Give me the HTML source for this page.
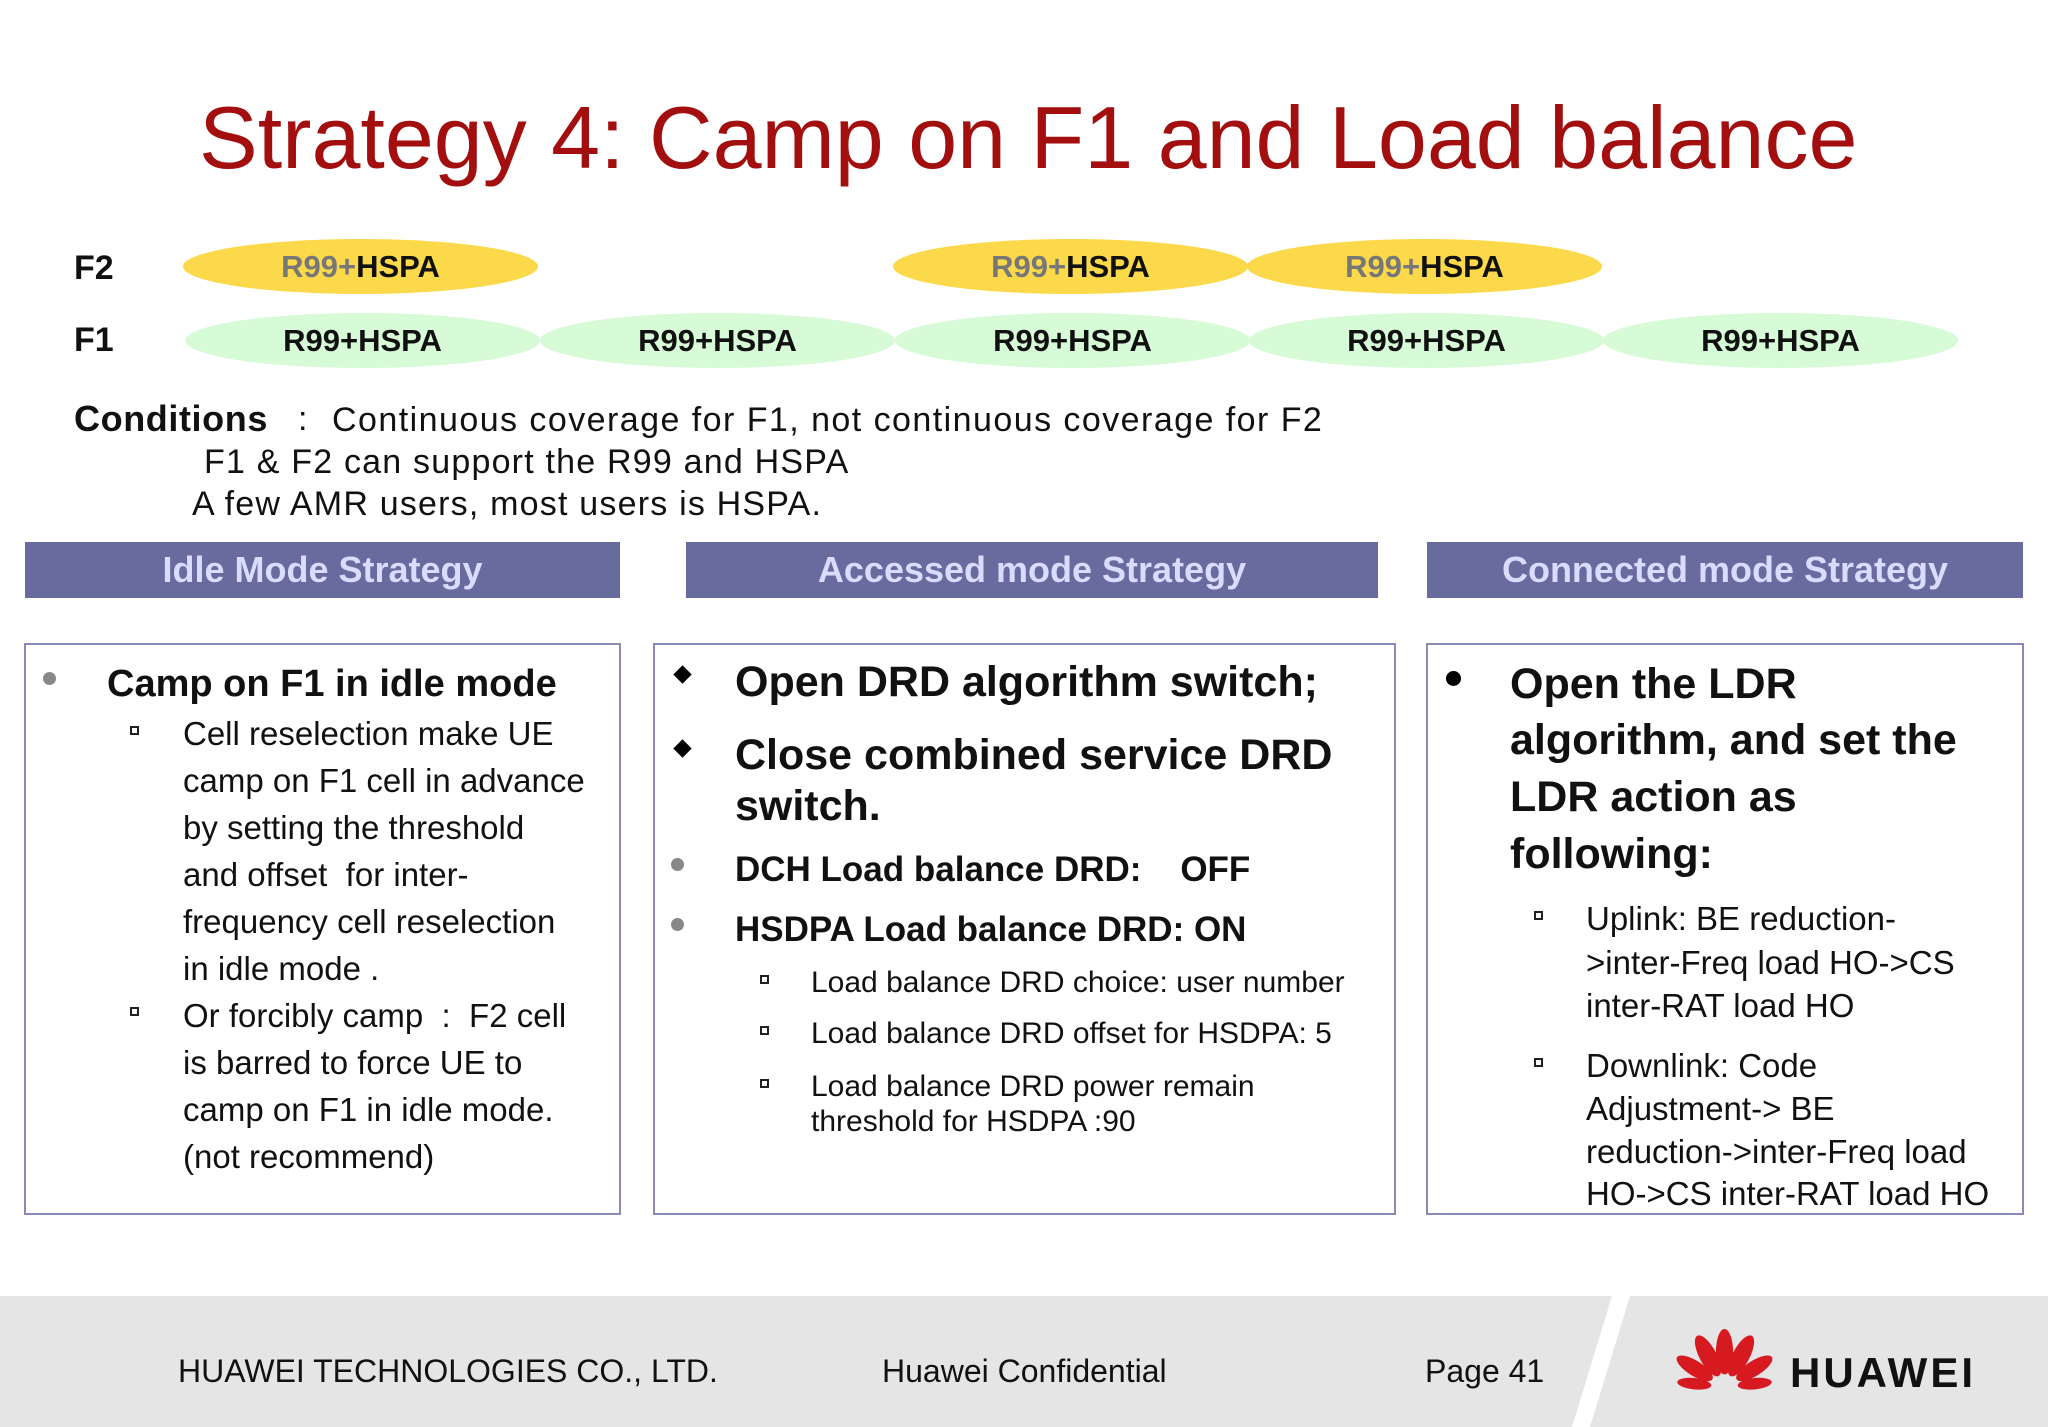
<!DOCTYPE html>
<html><head><meta charset="utf-8">
<style>
body{margin:0;width:2048px;height:1427px;background:#fff;position:relative;overflow:hidden;font-family:"Liberation Sans",sans-serif;color:#111}
.t{position:absolute;line-height:0;height:0;white-space:nowrap}
.b{font-weight:bold}
.ell{position:absolute;width:355px;height:55px;border-radius:50%;display:flex;align-items:center;justify-content:center;font-weight:bold;font-size:31px}
.y{background:#fcd94a}.g{background:#d6fbd6}
.hdr{position:absolute;top:542px;height:56px;background:#676b9e;color:#d9dcff;font-weight:bold;font-size:36px;display:flex;align-items:center;justify-content:center}
.box{position:absolute;top:643px;height:572px;border:2px solid #8a8ab8;box-sizing:border-box}
.sq{position:absolute;width:9px;height:9px;border:2px solid #222;box-sizing:border-box}
.dot{position:absolute;width:13px;height:13px;border-radius:50%;background:#888}
.dia{position:absolute;width:13px;height:13px;background:#000;transform:rotate(45deg)}
.s33{font-size:33px}.s31{font-size:30px}
.c{font-size:34px;letter-spacing:1.2px}
</style></head><body>
<div class="t" style="left:199px;top:138px;font-size:88px;color:#a30e0e">Strategy 4: Camp on F1 and Load balance</div>

<div class="t b" style="left:74px;top:268px;font-size:34px">F2</div>
<div class="t b" style="left:74px;top:340px;font-size:34px">F1</div>

<div class="ell y" style="left:183px;top:239px"><span style="color:#777">R99+</span>HSPA</div>
<div class="ell y" style="left:893px;top:239px"><span style="color:#777">R99+</span>HSPA</div>
<div class="ell y" style="left:1247px;top:239px"><span style="color:#777">R99+</span>HSPA</div>
<div class="ell g" style="left:185px;top:313px">R99+HSPA</div>
<div class="ell g" style="left:540px;top:313px">R99+HSPA</div>
<div class="ell g" style="left:895px;top:313px">R99+HSPA</div>
<div class="ell g" style="left:1249px;top:313px">R99+HSPA</div>
<div class="ell g" style="left:1603px;top:313px">R99+HSPA</div>

<div class="t b" style="left:74px;top:419px;font-size:36px;letter-spacing:0.6px">Conditions</div>
<div class="t" style="left:298px;top:419px;font-size:34px">:</div>
<div class="t c" style="left:332px;top:420px;letter-spacing:1.45px">Continuous coverage for F1, not continuous coverage for F2</div>
<div class="t c" style="left:204px;top:462px">F1 &amp; F2 can support the R99 and HSPA</div>
<div class="t c" style="left:192px;top:504px">A few AMR users, most users is HSPA.</div>

<div class="hdr" style="left:25px;width:595px">Idle Mode Strategy</div>
<div class="hdr" style="left:686px;width:692px">Accessed mode Strategy</div>
<div class="hdr" style="left:1427px;width:596px">Connected mode Strategy</div>

<div class="box" style="left:24px;width:597px"></div>
<div class="box" style="left:653px;width:743px"></div>
<div class="box" style="left:1426px;width:598px"></div>

<!-- idle box -->
<div class="dot" style="left:43px;top:672px"></div>
<div class="t b" style="left:107px;top:684px;font-size:38px">Camp on F1 in idle mode</div>
<div class="sq" style="left:130px;top:726px"></div>
<div class="t s33" style="left:183px;top:734px">Cell reselection make UE</div>
<div class="t s33" style="left:183px;top:781px">camp on F1 cell in advance</div>
<div class="t s33" style="left:183px;top:828px">by setting the threshold</div>
<div class="t s33" style="left:183px;top:875px">and offset&nbsp; for inter-</div>
<div class="t s33" style="left:183px;top:922px">frequency cell reselection</div>
<div class="t s33" style="left:183px;top:969px">in idle mode .</div>
<div class="sq" style="left:130px;top:1007px"></div>
<div class="t s33" style="left:183px;top:1016px">Or forcibly camp &nbsp;: &nbsp;F2 cell</div>
<div class="t s33" style="left:183px;top:1063px">is barred to force UE to</div>
<div class="t s33" style="left:183px;top:1110px">camp on F1 in idle mode.</div>
<div class="t s33" style="left:183px;top:1157px">(not recommend)</div>

<!-- accessed box -->
<div class="dia" style="left:676px;top:668px"></div>
<div class="t b" style="left:735px;top:682px;font-size:43px">Open DRD algorithm switch;</div>
<div class="dia" style="left:676px;top:742px"></div>
<div class="t b" style="left:735px;top:755px;font-size:43px">Close combined service DRD</div>
<div class="t b" style="left:735px;top:806px;font-size:43px">switch.</div>
<div class="dot" style="left:671px;top:858px"></div>
<div class="t b" style="left:735px;top:870px;font-size:35px">DCH Load balance DRD:&nbsp;&nbsp;&nbsp; OFF</div>
<div class="dot" style="left:671px;top:918px"></div>
<div class="t b" style="left:735px;top:930px;font-size:35px">HSDPA Load balance DRD: ON</div>
<div class="sq" style="left:760px;top:975px"></div>
<div class="t s31" style="left:811px;top:983px">Load balance DRD choice: user number</div>
<div class="sq" style="left:760px;top:1026px"></div>
<div class="t s31" style="left:811px;top:1034px">Load balance DRD offset for HSDPA: 5</div>
<div class="sq" style="left:760px;top:1079px"></div>
<div class="t s31" style="left:811px;top:1087px">Load balance DRD power remain</div>
<div class="t s31" style="left:811px;top:1122px">threshold for HSDPA :90</div>

<!-- connected box -->
<div style="position:absolute;left:1446px;top:671px;width:15px;height:15px;border-radius:50%;background:#000"></div>
<div class="t b" style="left:1510px;top:684px;font-size:43px">Open the LDR</div>
<div class="t b" style="left:1510px;top:740px;font-size:43px">algorithm, and set the</div>
<div class="t b" style="left:1510px;top:797px;font-size:43px">LDR action as</div>
<div class="t b" style="left:1510px;top:854px;font-size:43px">following:</div>
<div class="sq" style="left:1534px;top:911px"></div>
<div class="t s33" style="left:1586px;top:919px">Uplink: BE reduction-</div>
<div class="t s33" style="left:1586px;top:963px">&gt;inter-Freq load HO-&gt;CS</div>
<div class="t s33" style="left:1586px;top:1006px">inter-RAT load HO</div>
<div class="sq" style="left:1534px;top:1058px"></div>
<div class="t s33" style="left:1586px;top:1066px">Downlink: Code</div>
<div class="t s33" style="left:1586px;top:1109px">Adjustment-&gt; BE</div>
<div class="t s33" style="left:1586px;top:1152px">reduction-&gt;inter-Freq load</div>
<div class="t s33" style="left:1586px;top:1194px">HO-&gt;CS inter-RAT load HO</div>

<!-- footer -->
<div style="position:absolute;left:0;top:1296px;width:2048px;height:131px;background:#e5e5e5"></div>
<svg style="position:absolute;left:0;top:1296px" width="2048" height="131"><polygon points="1612,0 1630,0 1590,131 1572,131" fill="#fff"/></svg>
<div class="t" style="left:178px;top:1371px;font-size:32px">HUAWEI TECHNOLOGIES CO., LTD.</div>
<div class="t" style="left:882px;top:1371px;font-size:32px">Huawei Confidential</div>
<div class="t" style="left:1425px;top:1371px;font-size:32px">Page 41</div>
<svg style="position:absolute;left:1672px;top:1328px" width="105" height="76" viewBox="0 0 110 80">
<g fill="#d71920">
<ellipse cx="55" cy="25" rx="9" ry="24"/>
<ellipse cx="55" cy="25" rx="9" ry="24" transform="rotate(-28 55 62)"/>
<ellipse cx="55" cy="25" rx="9" ry="24" transform="rotate(28 55 62)"/>
<ellipse cx="55" cy="25" rx="8" ry="22" transform="rotate(-58 55 62)"/>
<ellipse cx="55" cy="25" rx="8" ry="22" transform="rotate(58 55 62)"/>
<ellipse cx="55" cy="30" rx="6" ry="18" transform="rotate(-84 55 62)"/>
<ellipse cx="55" cy="30" rx="6" ry="18" transform="rotate(84 55 62)"/>
</g></svg>
<div class="t b" style="left:1790px;top:1373px;font-size:42px;letter-spacing:3px;color:#111">HUAWEI</div>
</body></html>
